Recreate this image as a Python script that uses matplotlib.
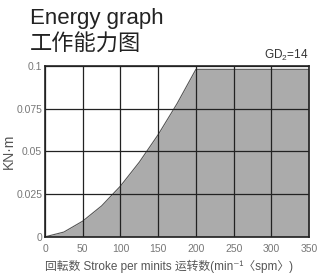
import matplotlib
matplotlib.use("Agg")
import matplotlib.pyplot as plt

plt.rcParams['font.family'] = ['Liberation Sans', 'Noto Sans CJK SC', 'DejaVu Sans']
plt.rcParams['mathtext.default'] = 'regular'

# 运转数 (spm) / 能量 (KN·m)
spm = [0, 25, 50, 75, 100, 125, 150, 175, 200, 350]
energy = [0, 0.0028, 0.0092, 0.0181, 0.0297, 0.0437, 0.0598, 0.0779, 0.098, 0.098]
xticks = [0, 50, 100, 150, 200, 250, 300, 350]
yticks = [0, 0.025, 0.05, 0.075, 0.1]
ytick_labels = ['0', '0.025', '0.05', '0.075', '0.1']

fig = plt.figure(figsize=(3.17, 2.77), dpi=100)
ax = fig.add_axes([0.142, 0.145, 0.833, 0.617])

ax.fill_between(spm, energy, 0, color='#ababab', lw=0, zorder=1)
ax.plot(spm, energy, color='#555555', lw=0.8, zorder=2)

ax.set_xlim(0, 350)
ax.set_ylim(0, 0.1)
ax.set_xticks(xticks)
ax.set_yticks(yticks)
ax.set_yticklabels(ytick_labels)
ax.tick_params(length=0, labelsize=7.5, labelcolor='#777777')
ax.tick_params(axis='x', pad=5)
ax.tick_params(axis='y', pad=2)
ax.grid(True, color='#222222', lw=0.9, zorder=3)
ax.set_axisbelow(False)
for s in ax.spines.values():
    s.set_linewidth(1.2)
    s.set_color('#222222')
    s.set_zorder(4)

ax.set_ylabel('KN·m', fontsize=10, color='#555555', labelpad=0)
ax.set_xlabel('回転数 Stroke per minits 运转数(min⁻¹〈spm〉)', fontsize=8.5,
              color='#555555', labelpad=4, x=0.47)

fig.text(0.095, 0.935, 'Energy graph', fontsize=16, color='#222222', va='center')
fig.text(0.095, 0.84, '工作能力图', fontsize=16, color='#222222', va='center',
         family=['Noto Sans CJK SC', 'DejaVu Sans'])
fig.text(0.972, 0.8, 'GD$_2$=14', fontsize=8.5, color='#333333', ha='right', va='center')

fig.savefig('out.png', dpi=100)
